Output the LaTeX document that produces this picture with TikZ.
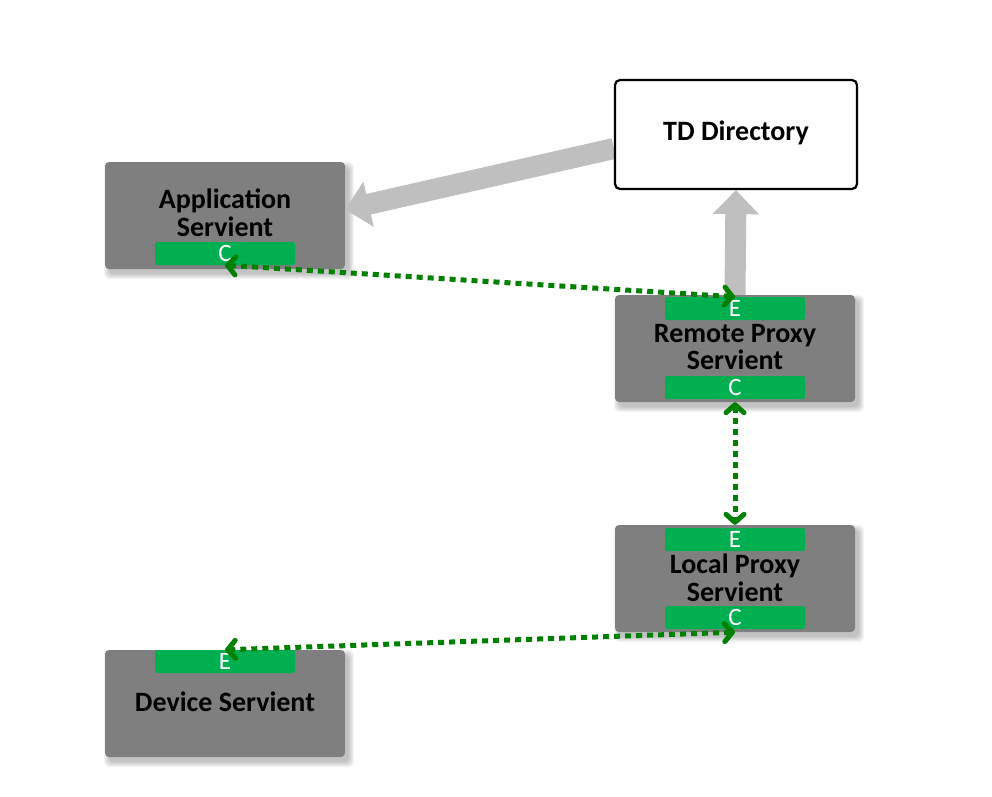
\documentclass[tikz,border=0pt]{standalone}
\usepackage{fontspec}
\setmainfont{Carlito}
\usetikzlibrary{arrows.meta,backgrounds}
\definecolor{boxgray}{HTML}{7F7F7F}
\definecolor{bargreen}{HTML}{00B050}
\definecolor{linkgreen}{HTML}{008000}
\definecolor{arrowgray}{HTML}{BFBFBF}
\tikzset{
  servbox/.style={fill=boxgray, rounded corners=4pt, inner sep=0pt,
    minimum width=240pt, minimum height=107pt},
  tdbox/.style={fill=white, draw=black, line width=2.2pt, rounded corners=5pt, inner sep=0pt,
    minimum width=242pt, minimum height=109pt},
  portbar/.style={fill=bargreen, rounded corners=2.5pt, inner sep=0pt,
    minimum width=140pt, minimum height=23pt, text=white,
    font=\fontsize{25pt}{25pt}\selectfont},
  label/.style={align=center, text=black, inner sep=0pt,
    font=\fontsize{28pt}{27.5pt}\selectfont\bfseries},
  biglink/.style={line width=21pt, draw=arrowgray,
    -{Triangle[length=24pt,width=45pt]}},
  dotlink/.style={line width=5pt, draw=linkgreen, dash pattern=on 6pt off 5pt,
    {Straight Barb[length=8pt,width=18pt,round]}-{Straight Barb[length=8pt,width=18pt,round]}},
  shadowlayer/.style={fill=black, opacity=0.045, rounded corners=6pt},
}
\newcommand{\softshadow}[1]{%
  \foreach \s in {0,2,4,6,8,10}{%
    \fill[shadowlayer] ([xshift=4pt-\s pt*0.5,yshift=-5pt+\s pt*0.5]#1.north west)
      rectangle ([xshift=4pt+\s pt*0.5,yshift=-5pt-\s pt*0.5]#1.south east);
  }%
}
\begin{document}
\begin{tikzpicture}[x=1pt,y=-1pt]
\useasboundingbox (0,0) rectangle (992,796);
% boxes
\node[tdbox] (td) at (736,134.5) {};
\node[servbox] (app) at (225,215.5) {};
\node[servbox] (rp) at (735,348.5) {};
\node[servbox] (lp) at (735,578.5) {};
\node[servbox] (dev) at (225,703.5) {};
\begin{scope}[on background layer]
  \softshadow{app}
  \softshadow{rp}
  \softshadow{lp}
  \softshadow{dev}
  \draw[biglink] ([yshift=-14pt]td.west) -- ([yshift=6pt]app.east);
  \draw[biglink] (rp.north) -- (td.south);
\end{scope}
% port bars
\node[portbar] (appC) at (225,253.5) {C};
\node[portbar] (rpE) at (735,308.5) {E};
\node[portbar] (rpC) at (735,387.5) {C};
\node[portbar] (lpE) at (735,539.5) {E};
\node[portbar] (lpC) at (735,617.5) {C};
\node[portbar] (devE) at (225,661.5) {E};
% labels
\node[label] (tdL) at (736,133) {TD Directory};
\node[label] (appL) at (225,213) {Application\\Servient};
\node[label] (rpL) at (735,347) {Remote Proxy\\Servient};
\node[label] (lpL) at (735,578) {Local Proxy\\Servient};
\node[label] (devL) at (225,702) {Device Servient};
% green dotted links
\draw[dotlink] (appC.south) -- (rpE.north);
\draw[dotlink] (rp.south) -- (lp.north);
\draw[dotlink] (lp.south) -- (devE.north);
\end{tikzpicture}
\end{document}
